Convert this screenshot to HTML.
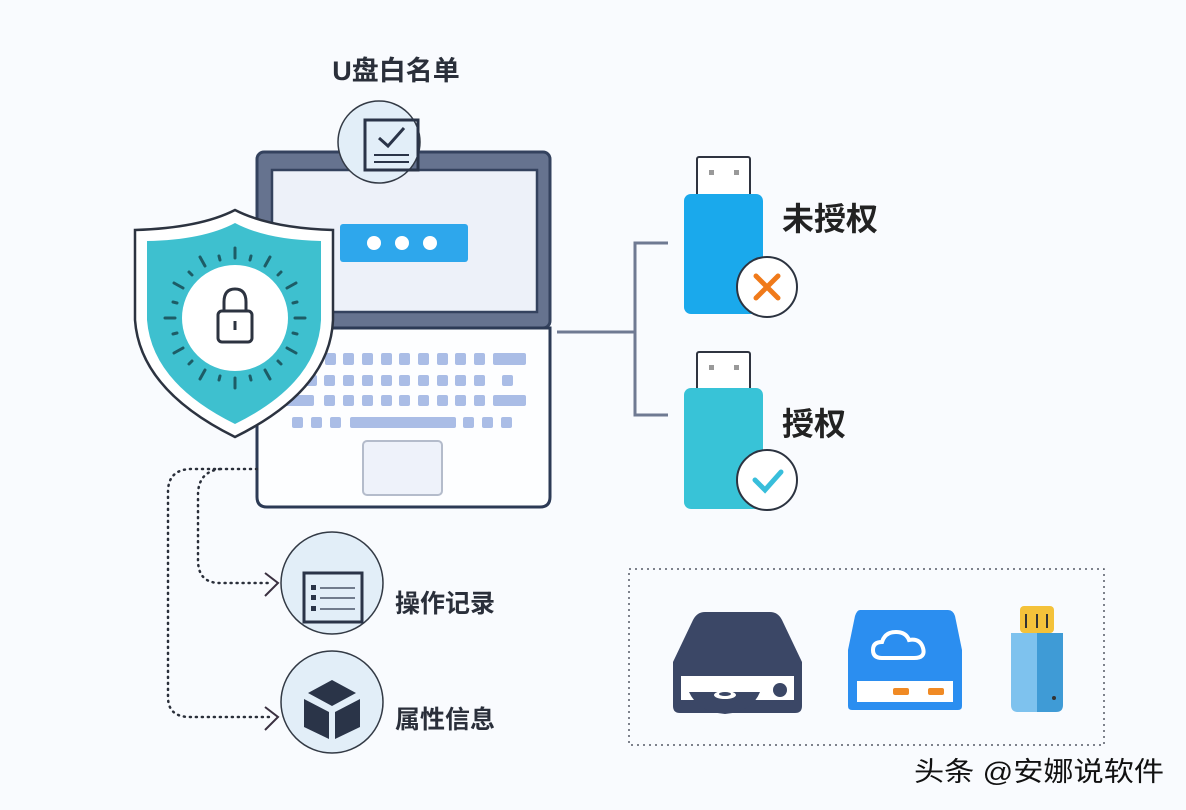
<!DOCTYPE html>
<html><head><meta charset="utf-8"><style>
html,body{margin:0;padding:0;background:#f9fbfe;}
svg{display:block;}
text{font-family:"Liberation Sans","Noto Sans CJK SC",sans-serif;}
</style></head><body>
<svg width="1186" height="810" viewBox="0 0 1186 810" xmlns="http://www.w3.org/2000/svg">
<rect width="1186" height="810" fill="#f9fbfe"/>

<text x="396" y="80" font-size="27" font-weight="bold" fill="#2a2f3a" text-anchor="middle">U盘白名单</text>

<rect x="257" y="152" width="293" height="176" rx="7" fill="#66738f" stroke="#34425e" stroke-width="3"/>
<rect x="272" y="170" width="265" height="142" fill="#edf1f9" stroke="#34425e" stroke-width="2.5"/>
<rect x="340" y="224" width="128" height="38" rx="3" fill="#2ea7ec"/>
<g fill="#fff">
<circle cx="374" cy="243" r="7"/><circle cx="402" cy="243" r="7"/><circle cx="430" cy="243" r="7"/>
</g>
<path d="M257 328 H550 V497 Q550 507 540 507 H267 Q257 507 257 497 Z" fill="#fdfeff" stroke="#2c3a55" stroke-width="3"/>
<g fill="#aabde6">
<rect x="325" y="353" width="11" height="12" rx="2"/><rect x="343" y="353" width="11" height="12" rx="2"/><rect x="362" y="353" width="11" height="12" rx="2"/><rect x="381" y="353" width="11" height="12" rx="2"/><rect x="399" y="353" width="11" height="12" rx="2"/><rect x="418" y="353" width="11" height="12" rx="2"/><rect x="437" y="353" width="11" height="12" rx="2"/><rect x="455" y="353" width="11" height="12" rx="2"/><rect x="474" y="353" width="11" height="12" rx="2"/><rect x="493" y="353" width="33" height="12" rx="2"/>
<rect x="296" y="353" width="22" height="12" rx="2"/>
<rect x="287" y="375" width="11" height="11" rx="2"/><rect x="306" y="375" width="11" height="11" rx="2"/><rect x="324" y="375" width="11" height="11" rx="2"/><rect x="343" y="375" width="11" height="11" rx="2"/><rect x="362" y="375" width="11" height="11" rx="2"/><rect x="381" y="375" width="11" height="11" rx="2"/><rect x="399" y="375" width="11" height="11" rx="2"/><rect x="418" y="375" width="11" height="11" rx="2"/><rect x="437" y="375" width="11" height="11" rx="2"/><rect x="455" y="375" width="11" height="11" rx="2"/><rect x="474" y="375" width="11" height="11" rx="2"/><rect x="502" y="375" width="11" height="11" rx="2"/>
<rect x="281" y="395" width="33" height="11" rx="2"/><rect x="324" y="395" width="11" height="11" rx="2"/><rect x="343" y="395" width="11" height="11" rx="2"/><rect x="362" y="395" width="11" height="11" rx="2"/><rect x="381" y="395" width="11" height="11" rx="2"/><rect x="399" y="395" width="11" height="11" rx="2"/><rect x="418" y="395" width="11" height="11" rx="2"/><rect x="437" y="395" width="11" height="11" rx="2"/><rect x="455" y="395" width="11" height="11" rx="2"/><rect x="474" y="395" width="11" height="11" rx="2"/><rect x="493" y="395" width="33" height="11" rx="2"/>
<rect x="292" y="417" width="11" height="11" rx="2"/><rect x="311" y="417" width="11" height="11" rx="2"/><rect x="330" y="417" width="11" height="11" rx="2"/><rect x="350" y="417" width="106" height="11" rx="2"/><rect x="463" y="417" width="11" height="11" rx="2"/><rect x="482" y="417" width="11" height="11" rx="2"/><rect x="501" y="417" width="11" height="11" rx="2"/>
</g>
<rect x="363" y="441" width="79" height="54" rx="4" fill="#eef2fa" stroke="#b4bccb" stroke-width="2"/>

<circle cx="379" cy="142" r="41" fill="#e2eef8" stroke="#333a45" stroke-width="1.5"/>
<rect x="365" y="120" width="53" height="50" fill="none" stroke="#2a3448" stroke-width="3"/>
<polyline points="379,138 388,146 404,128" fill="none" stroke="#2a3448" stroke-width="3"/>
<line x1="374" y1="155" x2="409" y2="155" stroke="#2a3448" stroke-width="2"/>
<line x1="374" y1="162" x2="409" y2="162" stroke="#2a3448" stroke-width="2"/>

<path d="M235 210 Q200 228 135 230 V320 Q140 390 235 437 Q330 390 333 320 V230 Q270 228 235 210 Z" fill="#fff" stroke="#2c3340" stroke-width="2.5"/>
<path d="M235 223 Q203 240 147 241 V320 Q152 383 235 424 Q318 383 321 320 V241 Q267 240 235 223 Z" fill="#3ec0cf"/>
<circle cx="235" cy="318" r="53" fill="#fff"/>
<g stroke="#1d5c66" stroke-width="3" stroke-linecap="round" transform="translate(235 318)">
<line x1="0" y1="-60" x2="0" y2="-70"/><line x1="0" y1="60" x2="0" y2="70"/><line x1="60" y1="0" x2="70" y2="0"/><line x1="-60" y1="0" x2="-70" y2="0"/>
<line x1="30" y1="-52" x2="35" y2="-61"/><line x1="-30" y1="-52" x2="-35" y2="-61"/><line x1="30" y1="52" x2="35" y2="61"/><line x1="-30" y1="52" x2="-35" y2="61"/>
<line x1="52" y1="-30" x2="61" y2="-35"/><line x1="-52" y1="-30" x2="-61" y2="-35"/><line x1="52" y1="30" x2="61" y2="35"/><line x1="-52" y1="30" x2="-61" y2="35"/>
<line x1="15" y1="-58" x2="16" y2="-62"/><line x1="-15" y1="-58" x2="-16" y2="-62"/><line x1="15" y1="58" x2="16" y2="62"/><line x1="-15" y1="58" x2="-16" y2="62"/>
<line x1="58" y1="-15" x2="62" y2="-16"/><line x1="-58" y1="-15" x2="-62" y2="-16"/><line x1="58" y1="15" x2="62" y2="16"/><line x1="-58" y1="15" x2="-62" y2="16"/>
<line x1="43" y1="-43" x2="46" y2="-46"/><line x1="-43" y1="-43" x2="-46" y2="-46"/><line x1="43" y1="43" x2="46" y2="46"/><line x1="-43" y1="43" x2="-46" y2="46"/>
</g>
<path d="M224 312 V302 Q224 289 235 289 Q246 289 246 302 V312" fill="none" stroke="#2c3340" stroke-width="3"/>
<rect x="218" y="311" width="34" height="31" rx="4" fill="#fff" stroke="#2c3340" stroke-width="3"/>
<line x1="235" y1="321" x2="235" y2="330" stroke="#2c3340" stroke-width="3"/>

<g stroke="#6f7a92" stroke-width="3" fill="none">
<line x1="557" y1="332" x2="635" y2="332"/>
<polyline points="668,243 635,243 635,415 668,415"/>
</g>

<rect x="697" y="157" width="53" height="40" rx="2" fill="#fff" stroke="#2f3440" stroke-width="2"/>
<rect x="709" y="170" width="5" height="5" fill="#999"/><rect x="734" y="170" width="5" height="5" fill="#999"/>
<rect x="684" y="194" width="79" height="120" rx="7" fill="#1aa9ec"/>
<circle cx="767" cy="287" r="30" fill="#fff" stroke="#2c3340" stroke-width="2"/>
<g stroke="#f07a1a" stroke-width="5" stroke-linecap="round"><line x1="756" y1="276" x2="778" y2="298"/><line x1="778" y1="276" x2="756" y2="298"/></g>
<text x="782" y="230" font-size="32" font-weight="bold" fill="#222">未授权</text>

<rect x="697" y="352" width="53" height="40" rx="2" fill="#fff" stroke="#2f3440" stroke-width="2"/>
<rect x="709" y="365" width="5" height="5" fill="#999"/><rect x="734" y="365" width="5" height="5" fill="#999"/>
<rect x="684" y="388" width="79" height="121" rx="7" fill="#38c3d7"/>
<circle cx="767" cy="480" r="30" fill="#fff" stroke="#2c3340" stroke-width="2"/>
<polyline points="755,480 765,490 781,472" fill="none" stroke="#38bedb" stroke-width="5" stroke-linecap="round"/>
<text x="782" y="435" font-size="32" font-weight="bold" fill="#222">授权</text>

<g stroke="#2a2f3a" stroke-width="2.5" fill="none" stroke-dasharray="1 5" stroke-linecap="round">
<path d="M257 469 H192 Q168 469 168 492 V697 Q168 717 190 717 H272"/>
<path d="M220 469 Q198 472 198 495 V560 Q198 583 220 583 H272"/>
</g>
<g stroke="#3a3040" stroke-width="2" fill="none">
<polyline points="265,573 278,583 265,596"/>
<polyline points="265,707 278,717 265,730"/>
</g>

<circle cx="332" cy="583" r="51" fill="#e2eef8" stroke="#333a45" stroke-width="1.5"/>
<rect x="304" y="573" width="58" height="49" fill="none" stroke="#2a3448" stroke-width="3"/>
<g fill="#2a3448"><rect x="311" y="585" width="5" height="5"/><rect x="311" y="595" width="5" height="5"/><rect x="311" y="606" width="5" height="5"/></g>
<g stroke="#4a5568" stroke-width="1.5"><line x1="320" y1="588" x2="355" y2="588"/><line x1="320" y1="598" x2="355" y2="598"/><line x1="320" y1="609" x2="355" y2="609"/></g>
<text x="395" y="612" font-size="25" font-weight="bold" fill="#2a2f3a">操作记录</text>

<circle cx="332" cy="702" r="51" fill="#e2eef8" stroke="#333a45" stroke-width="1.5"/>
<g fill="#2a3448">
<polygon points="332,680 356,693 332,706 308,693"/>
<polygon points="304,699 329,712 329,739 304,727"/>
<polygon points="360,699 335,712 335,739 360,727"/>
</g>
<text x="395" y="728" font-size="25" font-weight="bold" fill="#2a2f3a">属性信息</text>

<rect x="629" y="569" width="475" height="176" fill="none" stroke="#555a66" stroke-width="1.5" stroke-dasharray="2 4"/>

<path d="M705 612 H770 Q778 612 782 620 L802 662 V706 Q802 713 795 713 H680 Q673 713 673 706 V662 L693 620 Q697 612 705 612 Z" fill="#3b4766"/>
<rect x="681" y="676" width="113" height="24" fill="#fff"/>
<circle cx="780" cy="690" r="7" fill="#3b4766"/>
<path d="M689 692 H760 Q752 712 725 714 Q698 712 689 692 Z" fill="#3b4766"/>
<ellipse cx="725" cy="695" rx="11" ry="4" fill="#fff"/>
<ellipse cx="725" cy="694" rx="6" ry="2" fill="#3b4766"/>

<path d="M860 610 H948 Q953 610 955 616 L962 650 V706 Q962 710 958 710 H852 Q848 710 848 706 V650 L855 616 Q857 610 860 610 Z" fill="#2b8ef0"/>
<rect x="857" y="681" width="96" height="21" fill="#fff"/>
<rect x="893" y="688" width="16" height="7" rx="2" fill="#f08a24"/>
<rect x="928" y="688" width="16" height="7" rx="2" fill="#f08a24"/>
<path d="M882 658 Q873 658 873 650 Q873 642 882 642 Q885 632 896 632 Q906 632 909 640 Q920 638 923 648 Q926 658 914 658 Z" fill="none" stroke="#fff" stroke-width="4"/>

<rect x="1020" y="606" width="34" height="27" rx="4" fill="#f4c23a"/>
<g stroke="#333" stroke-width="2"><line x1="1026" y1="614" x2="1026" y2="628"/><line x1="1037" y1="614" x2="1037" y2="628"/><line x1="1047" y1="614" x2="1047" y2="628"/></g>
<path d="M1011 633 H1037 V712 H1018 Q1011 712 1011 705 Z" fill="#7ec2ee"/>
<path d="M1037 633 H1063 V705 Q1063 712 1056 712 H1037 Z" fill="#3f9bd6"/>
<circle cx="1054" cy="698" r="2" fill="#333"/>

<text x="914" y="781" font-size="27" fill="#111" textLength="250" lengthAdjust="spacingAndGlyphs">头条 @安娜说软件</text>
</svg>
</body></html>
